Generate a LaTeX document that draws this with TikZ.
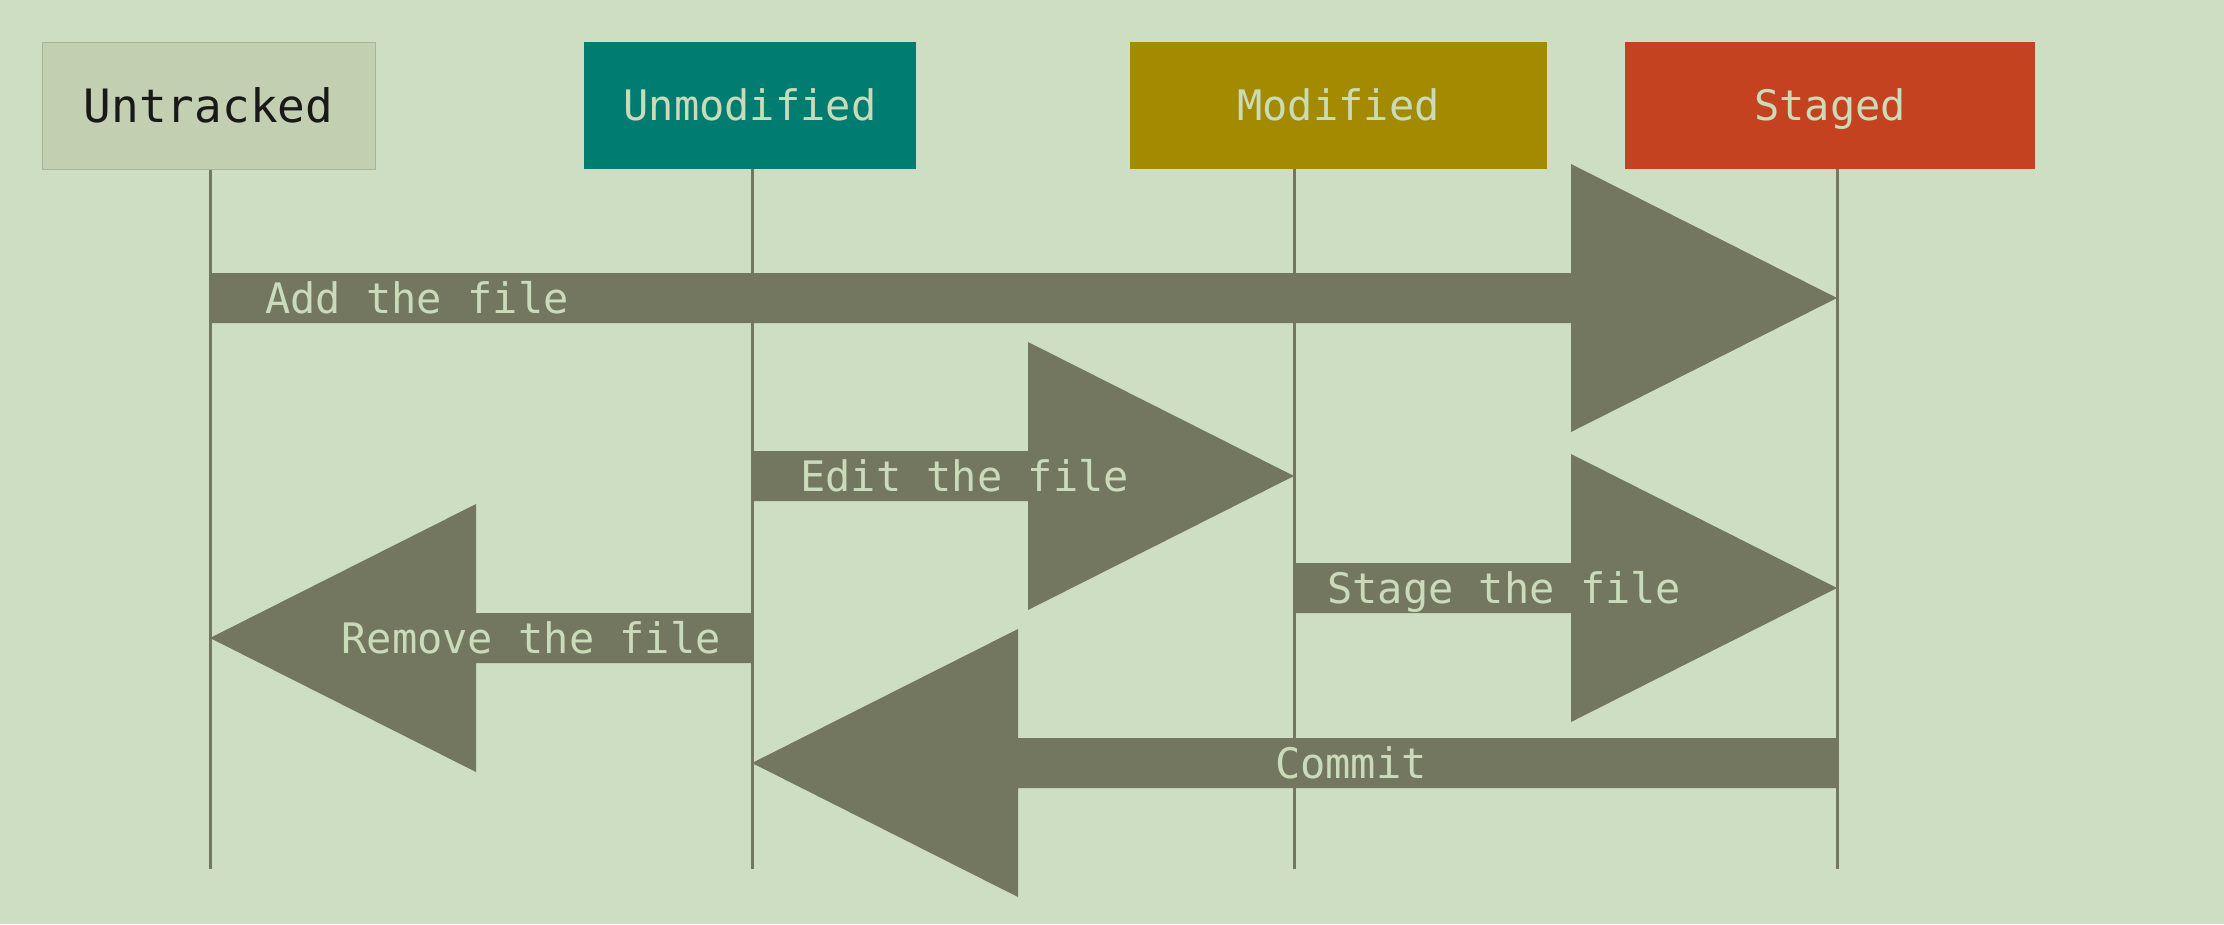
\documentclass[tikz,border=0pt]{standalone}
\usepackage{fontspec}
\setmonofont{DejaVu Sans Mono}
\usepackage{xcolor}
\usetikzlibrary{calc,positioning}

\definecolor{bg}{HTML}{CEDEC3}
\definecolor{untrackedfill}{HTML}{C2CFB0}
\definecolor{untrackededge}{HTML}{A8B598}
\definecolor{unmodfill}{HTML}{007C71}
\definecolor{modfill}{HTML}{A38A00}
\definecolor{stagedfill}{HTML}{C4421F}
\definecolor{flowgray}{HTML}{737760}
\definecolor{paletext}{HTML}{C9DBB9}

% fat block arrow from tail to tip (horizontal)
\newcommand{\fatarrow}[2]{%
  \coordinate (fa-tail) at (#1);
  \coordinate (fa-tip) at (#2);
  \coordinate (fa-base) at ($(fa-tip)!266pt!(fa-tail)$);
  \fill[flow] ($(fa-tail)+(0,25)$) -- ($(fa-base)+(0,25)$) -- ($(fa-base)+(0,134)$) -- (fa-tip)
     -- ($(fa-base)+(0,-134)$) -- ($(fa-base)+(0,-25)$) -- ($(fa-tail)+(0,-25)$) -- cycle;
}

\begin{document}
\begin{tikzpicture}[
    x=1pt, y=-1pt,
    statebox/.style={rectangle,inner sep=0pt,minimum height=127pt,text height=30.7pt,text depth=0pt,
        font=\ttfamily\fontsize{42}{48}\selectfont,text=paletext},
    lifeline/.style={draw=flowgray,line width=3pt},
    flow/.style={fill=flowgray},
    lbl/.style={inner sep=0pt,text=paletext,text height=30.7pt,text depth=0pt,
        font=\ttfamily\fontsize{42}{48}\selectfont},
]
% ---- background ----
\fill[bg] (0,0) rectangle (2224,924);
\useasboundingbox (0,0) rectangle (2224,924);

% ---- file states ----
\node[statebox,fill=untrackedfill,draw=untrackededge,line width=1pt,minimum width=333pt,
      text=black!90,text height=33.5pt,font=\ttfamily\fontsize{46}{52}\selectfont]
      (untracked) at (208.5,105.5) {Untracked};
\node[statebox,fill=unmodfill,minimum width=332pt] (unmodified) at (750,105.5) {Unmodified};
\node[statebox,fill=modfill,minimum width=417pt] (modified) at (1338.5,105.5) {Modified};
\node[statebox,fill=stagedfill,minimum width=410pt] (staged) at (1830,105.5) {Staged};

% ---- lifelines ----
\coordinate (ut-end) at (210,869);
\coordinate (um-end) at (752,869);
\coordinate (md-end) at (1294,869);
\coordinate (st-end) at (1837,869);
\foreach \s/\e in {untracked/ut-end,unmodified/um-end,modified/md-end,staged/st-end}
  \draw[lifeline] (\e |- \s.south) -- (\e);

% ---- transitions ----
\coordinate (row-add) at (0,298);
\coordinate (row-edit) at (0,476);
\coordinate (row-stage) at (0,588);
\coordinate (row-remove) at (0,638);
\coordinate (row-commit) at (0,763);

\fatarrow{ut-end |- row-add}{st-end |- row-add}
\node[lbl,right=55pt of fa-tail] (add-lbl) {Add the file};

\fatarrow{um-end |- row-edit}{md-end |- row-edit}
\node[lbl,right=48pt of fa-tail] (edit-lbl) {Edit the file};

\fatarrow{md-end |- row-stage}{st-end |- row-stage}
\node[lbl,right=33pt of fa-tail] (stage-lbl) {Stage the file};

\fatarrow{um-end |- row-remove}{ut-end |- row-remove}
\node[lbl,left=31pt of fa-tail] (remove-lbl) {Remove the file};

\fatarrow{st-end |- row-commit}{um-end |- row-commit}
\node[lbl,left=410pt of fa-tail] (commit-lbl) {Commit};
\end{tikzpicture}
\end{document}
